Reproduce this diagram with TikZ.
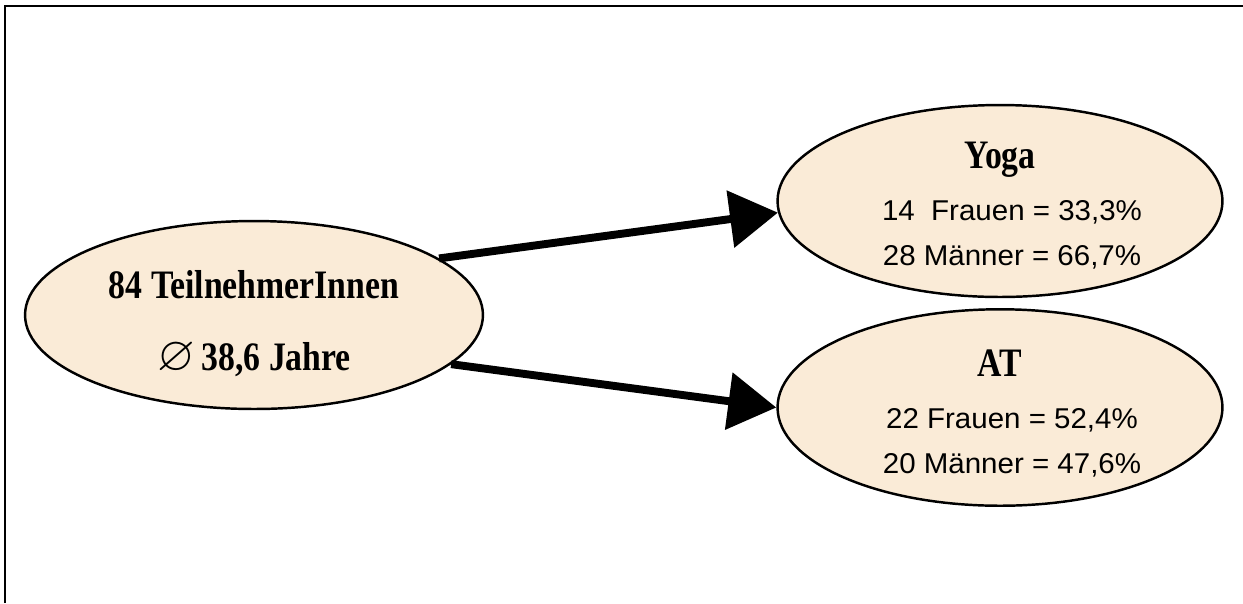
\documentclass[tikz,border=0pt]{standalone}
\usepackage{amssymb}
\usepackage{fontspec}
\usepackage{tikz}
\usetikzlibrary{shapes,arrows.meta,positioning}
\setmainfont{Liberation Serif}
\newfontfamily\headfont[FakeStretch=0.835]{Liberation Serif}
\newfontfamily\countfont[FakeStretch=1.03]{Liberation Sans}
\definecolor{nodebeige}{RGB}{250,235,215}

\begin{document}
\begin{tikzpicture}[x=0.02cm,y=-0.02cm,
  bubble/.style={ellipse,draw,line width=1.4pt,fill=nodebeige,inner sep=0pt,align=center},
  groupfont/.style={font=\headfont\bfseries\fontsize{23}{40.8}\selectfont},
  countfont/.style={font=\countfont\fontsize{16.3}{25.5}\selectfont},
  link/.style={line width=4.5pt,-{Triangle[length=0.96cm,width=1.12cm]}}]
\useasboundingbox (0,0) rectangle (1243,603);

% Frame
\draw[line width=1.6pt] (5,603) -- (5,6) -- (1243,6);

% All participants
\node[bubble,groupfont,minimum width=9.16cm,minimum height=3.76cm] (group) at (254,315)
  {\rule{0pt}{26pt}84 TeilnehmerInnen\\\scalebox{1.2}{$\varnothing$}\,38,6 Jahre};

% Yoga group
\node[bubble,countfont,minimum width=8.9cm,minimum height=3.84cm] (yoga) at (1000,201)
  {{\headfont\bfseries\fontsize{23}{26}\selectfont\rule{0pt}{20pt}Yoga}\\[0.14cm]
   \hspace*{0.48cm}14\ \ Frauen = 33,3\%\\
   \hspace*{0.48cm}28 Männer = 66,7\%};

% AT group
\node[bubble,countfont,minimum width=8.9cm,minimum height=3.78cm] (at) at (1000,407.5)
  {{\headfont\bfseries\fontsize{23}{26}\selectfont\rule{0pt}{22pt}AT}\\[0.14cm]
   \hspace*{0.48cm}22 Frauen = 52,4\%\\
   \hspace*{0.48cm}20 Männer = 47,6\%};

\draw[link] (group.17) -- (yoga.183);
\draw[link] (group.-14) -- (at.west);
\end{tikzpicture}
\end{document}
